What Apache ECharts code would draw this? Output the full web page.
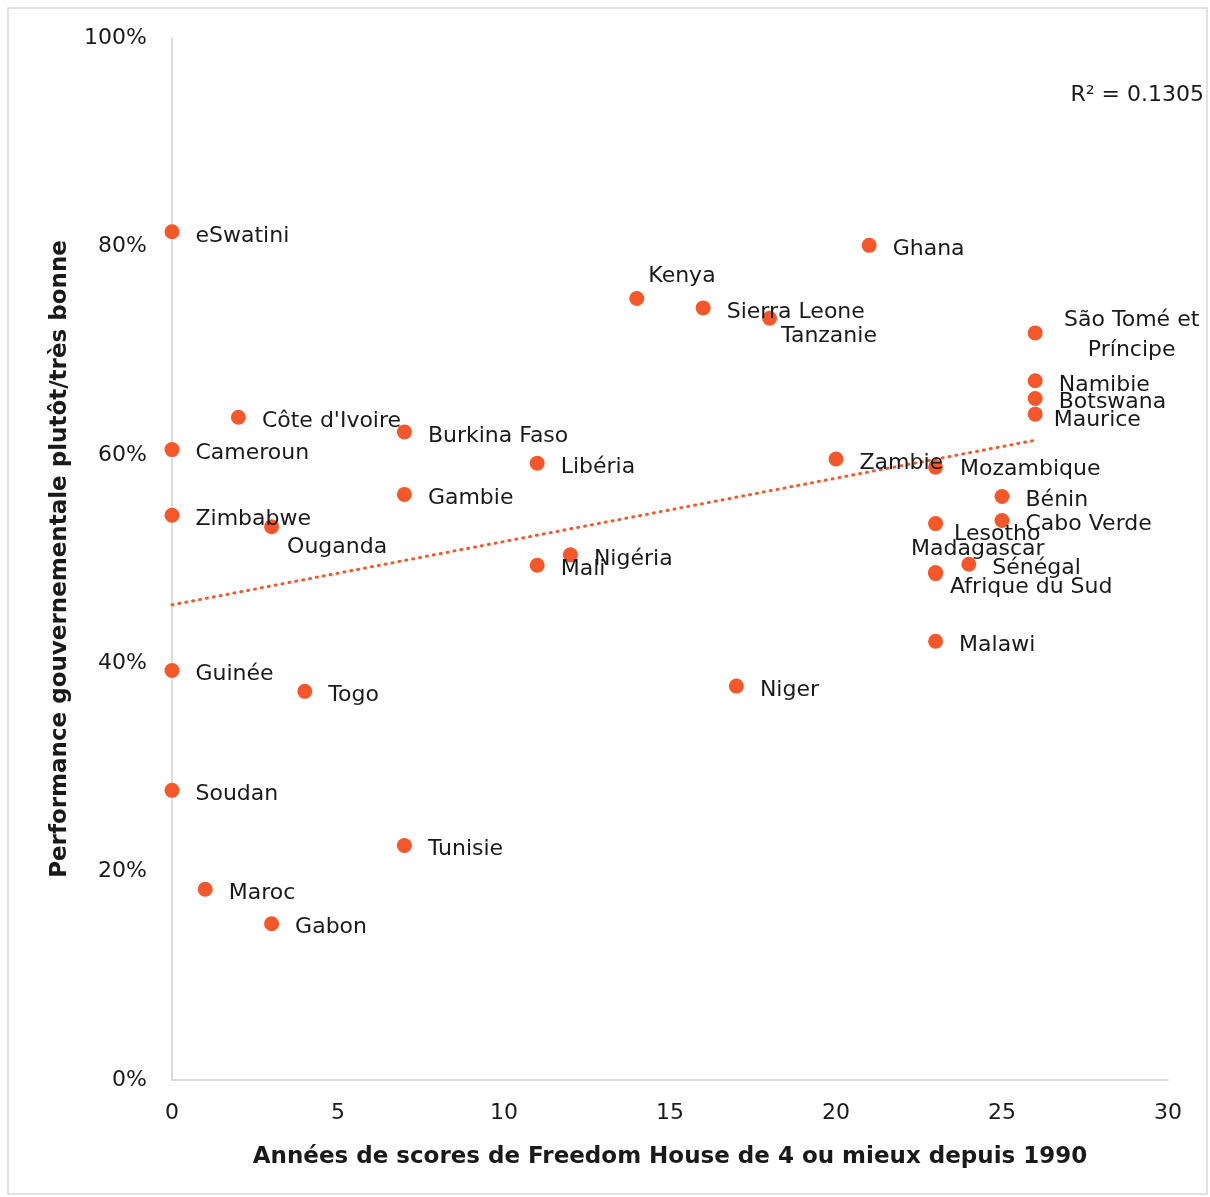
<!DOCTYPE html>
<html>
<head>
<meta charset="utf-8">
<script src="https://cdn.jsdelivr.net/npm/echarts@6/dist/echarts.min.js"></script>
<style>
html,body{margin:0;padding:0;background:#fff;}
#c{width:1210px;height:1197px;}
</style>
</head>
<body>
<div id="c"></div>
<script>
const countries = ["eSwatini","Ghana","Kenya","Sierra Leone","Tanzanie","São Tomé et\nPríncipe","Namibie","Botswana","Maurice","Côte d'Ivoire","Burkina Faso","Cameroun","Zambie","Libéria","Mozambique","Bénin","Gambie","Zimbabwe","Cabo Verde","Lesotho","Ouganda","Nigéria","Mali","Sénégal","Madagascar","Afrique du Sud","Malawi","Guinée","Togo","Niger","Soudan","Tunisie","Maroc","Gabon"];
const yearsFH = [0,21,14,16,18,26,26,26,26,2,7,0,20,11,23,25,7,0,25,23,3,12,11,24,23,23,23,0,4,17,0,7,1,3];
const performance = [81.4,80.1,75.0,74.1,73.1,71.7,67.1,65.4,63.9,63.6,62.2,60.5,59.6,59.2,58.8,56.0,56.2,54.2,53.7,53.4,53.1,50.4,49.4,49.5,48.7,48.6,42.1,39.3,37.3,37.8,27.8,22.5,18.3,15.0];
const trendX = [0, 26];
const trendY = [45.6, 61.4];
const rSquared = "R² = 0.1305";

const ORANGE = "#F4582A";
const FONT = "DejaVu Sans";
// label shifts in px relative to default right placement (style only)
const labelShift = {
  "Kenya":[-12,-24],
  "Tanzanie":[-12,16],
  "São Tomé et\nPríncipe":[73,0],
  "Ouganda":[-8,19],
  "Lesotho":[-5,9],
  "Madagascar":[-48,-25],
  "Afrique du Sud":[-9,12],
  "Maurice":[-5,4],
  "Mozambique":[1,0]
};

const chart = echarts.init(document.getElementById('c'));
const data = countries.map((n,i)=>{
  const item = {name:n, value:[yearsFH[i], performance[i]]};
  if (n.indexOf("\n")>=0) item.label = {align:'center', lineHeight:30};
  return item;
});

chart.setOption({
  animation:false,
  backgroundColor:'#fff',
  grid:{left:172,right:42,top:38,bottom:117},
  graphic:[
    {type:'rect',shape:{x:8,y:8,width:1199,height:1186},style:{fill:'none',stroke:'#d9d9d9',lineWidth:1.5},silent:true,z:-1},
    {type:'text',right:6,top:84,style:{text:rSquared,font:'22px '+FONT,fill:'#1a1a1a'}}
  ],
  xAxis:{
    type:'value',min:0,max:30,interval:5,
    name:'Années de scores de Freedom House de 4 ou mieux depuis 1990',
    nameLocation:'middle',nameGap:66,
    nameTextStyle:{fontFamily:FONT,fontWeight:'bold',fontSize:23,color:'#1a1a1a'},
    axisLine:{show:true,lineStyle:{color:'#d0d0d0',width:1.5}},
    axisTick:{show:false},splitLine:{show:false},
    axisLabel:{fontFamily:FONT,fontSize:22,color:'#1a1a1a',margin:22}
  },
  yAxis:{
    type:'value',min:0,max:100,interval:20,
    name:'Performance gouvernementale plutôt/très bonne',
    nameLocation:'middle',nameGap:100,
    nameTextStyle:{fontFamily:FONT,fontWeight:'bold',fontSize:23,color:'#1a1a1a'},
    axisLine:{show:true,lineStyle:{color:'#d0d0d0',width:1.5}},
    axisTick:{show:false},splitLine:{show:false},
    axisLabel:{fontFamily:FONT,fontSize:22,color:'#1a1a1a',margin:25,formatter:v=>v+'%'}
  },
  series:[
    {
      type:'line',data:trendX.map((x,i)=>[x,trendY[i]]),symbol:'none',
      lineStyle:{color:ORANGE,width:3,type:[1,6],cap:'round'},z:1,silent:true
    },
    {
      type:'scatter',data:data,symbolSize:15,
      itemStyle:{color:ORANGE,opacity:1},z:2,
      label:{show:true,position:'right',distance:16,formatter:p=>p.name,
        fontFamily:FONT,fontSize:22,color:'#1a1a1a'},
      labelLayout:function(p){
        const n = countries[p.dataIndex];
        const s = labelShift[n] || [0,2];
        return {dx:s[0], dy:s[1]+2, hideOverlap:false};
      }
    }
  ]
});
</script>
</body>
</html>
